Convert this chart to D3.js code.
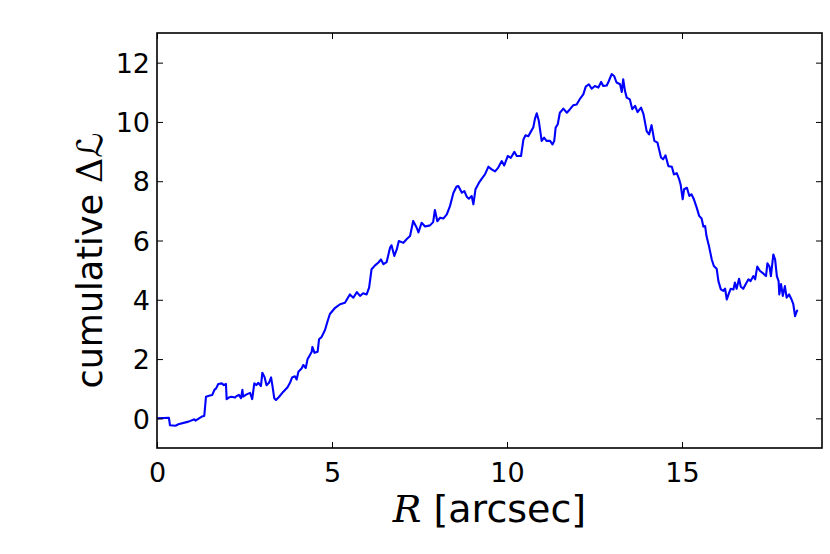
<!DOCTYPE html>
<html>
<head>
<meta charset="utf-8">
<script src="https://cdn.jsdelivr.net/npm/d3@7"></script>
<style>
  html, body { margin: 0; padding: 0; background: #fff; }
  svg { display: block; }
</style>
</head>
<body>
<svg id="chart" width="830" height="554"></svg>
<script>
// Radius values (arcsec)
const rValues = [0,0.34,0.37,0.53,0.61,0.90,1.07,1.10,1.28,1.35,1.40,1.51,1.58,1.64,1.69,1.75,1.85,1.91,1.97,1.99,2.05,2.13,2.23,2.27,2.34,2.40,2.44,2.46,2.56,2.66,2.72,2.78,2.84,2.89,2.97,3.01,3.07,3.13,3.20,3.26,3.30,3.35,3.40,3.49,3.61,3.73,3.80,3.86,3.94,3.99,4.04,4.13,4.18,4.25,4.30,4.37,4.42,4.44,4.50,4.59,4.63,4.70,4.80,4.88,
4.94,5.09,5.23,5.37,5.51,5.61,5.71,5.80,5.89,5.99,6.06,6.13,6.23,6.32,6.40,6.47,6.56,6.66,6.70,6.78,6.85,6.91,7.04,7.13,7.23,7.32,7.42,7.47,7.56,7.66,7.80,7.89,7.94,8.01,8.09,8.18,8.28,8.37,8.47,8.56,8.61,8.71,8.78,8.85,8.91,8.99,9.04,9.10,9.20,9.28,9.37,9.47,9.56,9.66,
9.75,9.85,9.92,10.02,10.11,10.21,10.28,10.40,10.47,10.53,10.61,10.69,10.75,10.80,10.85,10.91,10.99,11.06,11.13,11.23,11.30,11.35,11.39,11.45,11.51,11.61,11.71,11.80,11.89,11.99,12.09,12.18,12.25,12.34,12.42,12.51,12.61,12.69,12.75,12.85,12.91,12.99,13.06,13.13,13.23,13.28,13.32,13.37,13.42,13.51,13.58,13.66,13.73,13.83,13.90,13.99,14.06,14.13,14.21,14.30,14.40,14.46,14.53,14.61,
14.71,14.77,14.85,14.92,14.96,15.02,15.06,15.14,15.21,15.27,15.34,15.42,15.49,15.56,15.61,15.66,15.70,15.78,15.85,15.91,15.99,16.04,16.11,16.18,16.23,16.28,16.33,16.39,16.47,16.51,16.56,16.63,16.68,16.75,16.83,16.90,16.96,17.04,17.09,17.15,17.23,17.32,17.40,17.44,17.50,17.54,17.61,17.66,17.71,17.76,17.78,17.83,17.88,17.94,17.99,18.06,18.13,18.18,18.23,18.28,18.31];

// Cumulative Delta L values
const dLValues = [0,0.02,-0.23,-0.25,-0.20,-0.11,-0.03,-0.08,0.06,0.08,0.73,0.77,0.79,0.96,1.01,1.16,1.18,1.12,1.16,0.65,0.70,0.73,0.70,0.75,0.79,0.68,0.96,0.73,0.81,0.86,0.65,1.18,1.12,1.20,1.09,1.54,1.40,1.12,1.20,1.38,1.09,0.68,0.62,0.73,0.90,1.05,1.20,1.38,1.42,1.31,1.57,1.68,1.80,1.70,1.99,2.14,2.25,2.41,2.21,2.25,2.67,2.74,2.98,3.30,
3.52,3.73,3.85,3.90,4.18,4.07,4.26,4.13,4.22,4.18,4.41,5.03,5.16,5.25,5.36,5.20,5.27,5.76,5.84,5.48,5.70,5.98,5.92,6.04,6.15,6.66,6.43,6.27,6.60,6.47,6.51,6.62,7.03,6.65,6.77,6.74,6.88,7.16,7.61,7.82,7.84,7.61,7.67,7.48,7.41,7.50,7.22,7.73,7.95,8.09,8.23,8.49,8.40,8.33,
8.46,8.68,8.53,8.85,8.79,8.99,8.85,8.85,9.41,9.55,9.52,9.69,9.81,10.11,10.29,10.03,9.36,9.47,9.36,9.36,9.24,9.36,9.81,9.92,10.31,10.45,10.31,10.43,10.56,10.59,10.79,10.93,11.19,11.27,11.12,11.21,11.16,11.35,11.21,11.23,11.38,11.61,11.55,11.33,11.27,11.01,11.44,11.05,10.82,10.76,10.43,10.54,10.33,10.48,10.26,9.69,9.58,9.89,9.36,9.30,8.80,8.74,8.87,8.51,
8.49,8.23,8.27,8.06,7.89,7.39,7.73,7.78,7.50,7.56,7.39,7.11,6.83,6.74,6.47,6.49,6.15,5.76,5.36,5.14,5.05,4.63,4.35,4.30,4.38,4.01,4.18,4.37,4.35,4.58,4.37,4.71,4.44,4.37,4.55,4.69,4.63,4.80,4.69,5.12,4.97,4.89,4.80,5.23,5.12,4.80,5.53,5.36,4.80,4.63,4.18,4.53,4.13,4.46,4.07,4.18,4.01,3.85,3.45,3.62,3.65];

const xTicks = [0, 5, 10, 15];
const yTicks = [0, 2, 4, 6, 8, 10, 12];
const xDomain = [0, 19];
const yDomain = [-1, 13];

const W = 830, H = 554;
const margin = {left: 157, right: 8, top: 33, bottom: 106};
const iw = W - margin.left - margin.right;
const ih = H - margin.top - margin.bottom;

const svg = d3.select("#chart");
const g = svg.append("g").attr("transform", `translate(${margin.left},${margin.top})`);

const x = d3.scaleLinear().domain(xDomain).range([0, iw]);
const y = d3.scaleLinear().domain(yDomain).range([ih, 0]);

const data = rValues.map((r, i) => ({r, v: dLValues[i]}));

g.append("clipPath").attr("id", "clip").append("rect").attr("width", iw).attr("height", ih);

g.append("path")
  .datum(data)
  .attr("clip-path", "url(#clip)")
  .attr("fill", "none")
  .attr("stroke", "#0000ff")
  .attr("stroke-width", 2.1)
  .attr("stroke-linejoin", "round")
  .attr("d", d3.line().x(d => x(d.r)).y(d => y(d.v)));

const tickFont = "'DejaVu Sans', sans-serif";
const tickLen = 6;

const xBottom = g.append("g").attr("transform", `translate(0,${ih})`)
  .call(d3.axisBottom(x).tickValues(xTicks).tickSize(-tickLen).tickPadding(tickLen + 9).tickFormat(d3.format("d")));
const xTop = g.append("g")
  .call(d3.axisTop(x).tickValues(xTicks).tickSize(-tickLen).tickFormat(""));
const yLeft = g.append("g")
  .call(d3.axisLeft(y).tickValues(yTicks).tickSize(-tickLen).tickPadding(tickLen + 1).tickFormat(d3.format("d")));
const yRight = g.append("g").attr("transform", `translate(${iw},0)`)
  .call(d3.axisRight(y).tickValues(yTicks).tickSize(-tickLen).tickFormat(""));

[xBottom, xTop, yLeft, yRight].forEach(a => {
  a.select(".domain").remove();
  a.selectAll(".tick line").attr("stroke", "#000").attr("stroke-width", 1);
  a.selectAll(".tick text").attr("font-family", tickFont).attr("font-size", 27).attr("fill", "#000");
});
xBottom.selectAll(".tick text").attr("dy", "0.71em");
yLeft.selectAll(".tick text").attr("dy", "0.36em");

g.append("rect").attr("width", iw).attr("height", ih)
  .attr("fill", "none").attr("stroke", "#000").attr("stroke-width", 1.6);

// x label
const xl = svg.append("text")
  .attr("x", margin.left + iw / 2).attr("y", 522)
  .attr("text-anchor", "middle")
  .attr("font-family", "'DejaVu Sans', sans-serif").attr("font-size", 38).attr("fill", "#000");
xl.append("tspan").attr("font-family", "'DejaVu Serif', serif").attr("font-style", "italic").text("R");
xl.append("tspan").text(" [arcsec]");

// y label
const yl = svg.append("text")
  .attr("transform", `translate(102,${margin.top + ih / 2 + 20}) rotate(-90)`)
  .attr("text-anchor", "middle")
  .attr("font-family", "'DejaVu Sans', sans-serif").attr("font-size", 35).attr("fill", "#000");
yl.append("tspan").text("cumulative ");
yl.append("tspan").attr("font-family", "'DejaVu Serif', serif").text("Δ");
yl.append("tspan").attr("font-family", "'DejaVu Serif', 'DejaVu Sans', serif").attr("font-style", "italic").text("ℒ");
</script>
</body>
</html>
